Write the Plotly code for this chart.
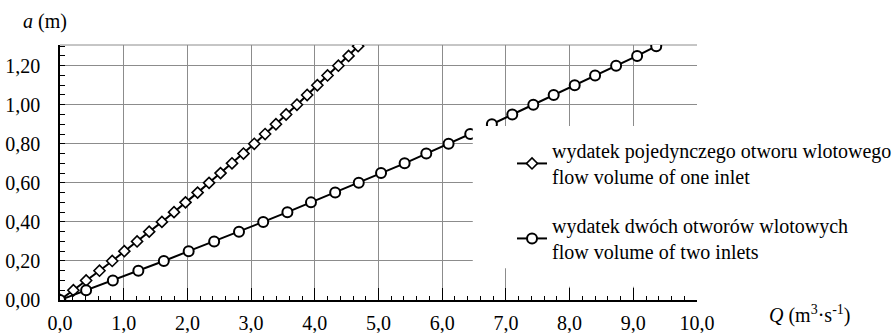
import plotly.graph_objects as go

# a (m) values, shared by both series
a_values = [0.00, 0.05, 0.10, 0.15, 0.20, 0.25, 0.30, 0.35, 0.40, 0.45, 0.50,
            0.55, 0.60, 0.65, 0.70, 0.75, 0.80, 0.85, 0.90, 0.95, 1.00,
            1.05, 1.10, 1.15, 1.20, 1.25, 1.30]

# Q (m3/s) - one inlet (diamonds)
q_one_inlet = [0.00, 0.21, 0.41, 0.62, 0.82, 1.01, 1.21, 1.40, 1.60, 1.79, 1.97,
               2.16, 2.34, 2.52, 2.70, 2.88, 3.05, 3.22, 3.39, 3.55, 3.72,
               3.88, 4.04, 4.20, 4.37, 4.53, 4.68]

# Q (m3/s) - two inlets (circles)
q_two_inlets = [0.00, 0.41, 0.83, 1.23, 1.63, 2.02, 2.42, 2.81, 3.19, 3.57, 3.94,
                4.32, 4.69, 5.04, 5.41, 5.75, 6.10, 6.44, 6.78, 7.10, 7.43,
                7.75, 8.08, 8.40, 8.73, 9.06, 9.36]

name_one = "wydatek pojedynczego otworu wlotowego<br>flow volume of one inlet"
name_two = "wydatek dwóch otworów wlotowych<br>flow volume of two inlets"

x_ticks = [0, 1, 2, 3, 4, 5, 6, 7, 8, 9, 10]
y_ticks = [0.0, 0.2, 0.4, 0.6, 0.8, 1.0, 1.2]

FONT = "'Liberation Serif', 'Times New Roman', Times, 'DejaVu Serif', 'Noto Serif', serif"

fig = go.Figure()
fig.add_trace(go.Scatter(
    x=q_one_inlet, y=a_values, mode="lines+markers", name=name_one,
    legendgroup="g1",
    line=dict(color="black", width=2),
    marker=dict(symbol="diamond", size=8.5, color="white",
                line=dict(color="black", width=1.6)),
))
fig.add_trace(go.Scatter(
    x=q_two_inlets, y=a_values, mode="lines+markers", name=name_two,
    legendgroup="g2",
    line=dict(color="black", width=2),
    marker=dict(symbol="circle", size=10, color="white",
                line=dict(color="black", width=2)),
))

# white cover regions (as in the original, the legend box hides grid/marks)
fig.add_shape(type="rect", xref="paper", yref="paper", x0=0.648, x1=1.02,
              y0=0.125, y1=0.682, fillcolor="white", line_width=0, layer="above")
fig.add_shape(type="rect", xref="paper", yref="paper", x0=0.755, x1=1.02,
              y0=0.052, y1=0.682, fillcolor="white", line_width=0, layer="above")
# top border of plot area
fig.add_shape(type="line", xref="paper", yref="paper", x0=0, x1=1, y0=1, y1=1,
              line=dict(color="#8c8c8c", width=1), layer="below")

fig.add_annotation(text="<i>a</i> (m)", xref="paper", yref="paper",
                   x=-0.062, y=1.0, xanchor="left", yanchor="bottom", yshift=10,
                   showarrow=False, font=dict(family=FONT, size=20, color="black"))
fig.add_annotation(text="<i>Q</i> (m<sup>3</sup>·s<sup>-1</sup>)", xref="paper", yref="paper",
                   x=1.11, y=0.0, xanchor="left", yanchor="top", yshift=0,
                   showarrow=False, font=dict(family=FONT, size=20, color="black"))

fig.update_layout(
    width=895, height=333,
    margin=dict(l=60, r=198, t=45, b=33, autoexpand=False),
    paper_bgcolor="white", plot_bgcolor="white",
    separators=", ",
    font=dict(family=FONT, size=20, color="black"),
    showlegend=True,
    legend=dict(
        x=0.7096, y=0.663, xanchor="left", yanchor="top",
        bgcolor="white", borderwidth=0,
        font=dict(family=FONT, size=20, color="black"),
        tracegroupgap=20,
        itemclick=False,
    ),
)
fig.update_xaxes(
    range=[0, 10.0], tickvals=x_ticks, tickformat=".1f",
    showgrid=True, gridcolor="#8c8c8c", gridwidth=1,
    showline=True, linecolor="black", linewidth=1.5,
    ticks="inside", ticklen=12, tickcolor="black", tickwidth=1,
    minor=dict(dtick=0.2, ticks="inside", ticklen=4, tickcolor="black", showgrid=False),
    ticklabelstandoff=4, zeroline=False, automargin=False,
    tickfont=dict(family=FONT, size=20, color="black"),
)
fig.update_yaxes(
    range=[0, 1.306], tickvals=y_ticks, tickformat=".2f",
    showgrid=True, gridcolor="#8c8c8c", gridwidth=1,
    showline=True, linecolor="black", linewidth=1.5,
    ticks="inside", ticklen=5, tickcolor="black", tickwidth=1,
    minor=dict(dtick=0.05, ticks="inside", ticklen=5, tickcolor="black", showgrid=False),
    ticklabelstandoff=14, zeroline=False, automargin=False,
    tickfont=dict(family=FONT, size=20, color="black"),
)

fig.write_html("out.html")
